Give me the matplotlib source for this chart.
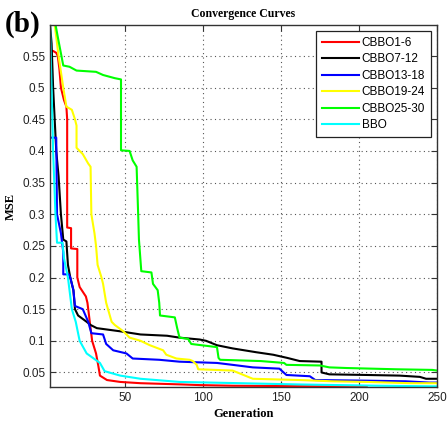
import matplotlib

matplotlib.use("Agg")
import matplotlib.pyplot as plt

# Convergence curves (generation, MSE)
labels = ["CBBO1-6", "CBBO7-12", "CBBO13-18", "CBBO19-24", "CBBO25-30", "BBO"]
colors = ["#ff0000", "#000000", "#0000ff", "#ffff00", "#00ff00", "#00ffff"]

red_gen = [2, 4, 6, 7, 8, 9, 11, 12.5, 13, 13, 15.5, 15.5, 19.5, 19.5, 21, 25, 26, 27.5, 29, 31.5, 33, 34, 38.5, 47, 60, 87, 98, 119, 183, 205]
red_mse = [0.558, 0.558, 0.555, 0.55, 0.53, 0.5, 0.48, 0.47, 0.45, 0.279, 0.278, 0.246, 0.245, 0.2, 0.185, 0.17, 0.16, 0.13, 0.1, 0.08, 0.06, 0.045, 0.038, 0.035, 0.033, 0.031, 0.030, 0.029, 0.028, 0.027]

black_gen = [2, 3, 4, 5, 6, 7.5, 9, 10.5, 12.5, 13.5, 15, 17, 18, 20, 25.5, 28, 32, 47, 60, 77, 85, 98, 102, 109, 119, 134, 145, 154, 162, 176, 176, 181, 205, 226, 239, 243, 250]
black_mse = [0.6, 0.57, 0.5, 0.45, 0.4, 0.36, 0.3, 0.26, 0.257, 0.22, 0.2, 0.18, 0.15, 0.14, 0.13, 0.125, 0.12, 0.115, 0.11, 0.108, 0.105, 0.102, 0.1, 0.093, 0.088, 0.082, 0.078, 0.073, 0.068, 0.067, 0.05, 0.047, 0.046, 0.045, 0.043, 0.04, 0.04]

blue_gen = [2, 6, 6.5, 9, 10.5, 10.5, 14, 15, 17, 18, 23, 26.5, 28.5, 36, 38, 42.5, 51, 55, 72, 85, 109, 119, 132, 149, 153.5, 168.5, 172, 205, 230, 245, 250]
blue_mse = [0.421, 0.421, 0.3, 0.27, 0.24, 0.205, 0.205, 0.2, 0.18, 0.155, 0.15, 0.13, 0.112, 0.11, 0.095, 0.085, 0.08, 0.072, 0.07, 0.067, 0.065, 0.062, 0.058, 0.056, 0.046, 0.044, 0.038, 0.037, 0.036, 0.034, 0.034]

yellow_gen = [5, 7.5, 10.5, 12.5, 16, 18, 19, 19, 23, 26.5, 28, 28.5, 30.5, 31.5, 32.5, 35, 36, 38, 41.5, 43.5, 49, 53, 60, 66, 74.5, 76.5, 83, 91.5, 93.5, 96, 97, 119, 124, 129, 132, 162, 183, 205, 233, 250]
yellow_mse = [0.6, 0.55, 0.5, 0.47, 0.465, 0.45, 0.44, 0.405, 0.395, 0.38, 0.375, 0.3, 0.27, 0.25, 0.22, 0.2, 0.19, 0.16, 0.13, 0.125, 0.115, 0.105, 0.1, 0.093, 0.085, 0.078, 0.072, 0.07, 0.068, 0.062, 0.055, 0.053, 0.048, 0.043, 0.04, 0.038, 0.036, 0.035, 0.033, 0.033]

green_gen = [5.5, 7, 10.5, 14.5, 19, 31.5, 36, 43.5, 47.5, 47.5, 53, 55, 57.5, 58.5, 59, 60.5, 67, 68, 71, 72, 72.5, 82, 83.5, 85, 90.5, 92.5, 109, 110, 111, 137, 152, 153.5, 175, 181, 192, 224, 247, 250]
green_mse = [0.6, 0.58, 0.535, 0.533, 0.527, 0.525, 0.52, 0.515, 0.513, 0.401, 0.4, 0.385, 0.375, 0.3, 0.26, 0.21, 0.208, 0.19, 0.18, 0.16, 0.14, 0.137, 0.12, 0.105, 0.103, 0.095, 0.09, 0.073, 0.07, 0.068, 0.065, 0.062, 0.061, 0.058, 0.057, 0.055, 0.054, 0.053]

cyan_gen = [2, 3, 4, 5.5, 6.5, 10, 11, 13.5, 16, 18.5, 21, 25.5, 34, 37, 47, 60, 85, 124, 162, 213, 250]
cyan_mse = [0.6, 0.5, 0.4, 0.3, 0.255, 0.255, 0.23, 0.2, 0.15, 0.13, 0.1, 0.08, 0.065, 0.052, 0.045, 0.04, 0.035, 0.033, 0.031, 0.029, 0.028]

series = [
    (red_gen, red_mse),
    (black_gen, black_mse),
    (blue_gen, blue_mse),
    (yellow_gen, yellow_mse),
    (green_gen, green_mse),
    (cyan_gen, cyan_mse),
]

x_ticks = [50, 100, 150, 200, 250]
y_ticks = [0.05, 0.1, 0.15, 0.2, 0.25, 0.3, 0.35, 0.4, 0.45, 0.5, 0.55]

SANS = ["Liberation Sans", "DejaVu Sans"]
SERIF = ["Liberation Serif", "DejaVu Serif"]

fig = plt.figure(figsize=(4.47, 4.26), dpi=100)
ax = fig.add_axes([50 / 447, 1 - 387 / 426, 387 / 447, 362 / 426])

for (gen, mse), color, label in zip(series, colors, labels):
    ax.plot(gen, mse, color=color, linewidth=1.5, label=label)

ax.set_xlim(2, 250)
ax.set_ylim(0.027, 0.599)
ax.set_xticks(x_ticks)
ax.set_yticks(y_ticks)
ax.set_yticklabels([f"{v:g}" for v in y_ticks])
ax.tick_params(direction="in", top=True, right=True, length=4, width=0.8,
               labelsize=8.5, colors="#333333", labelcolor="#222222")
for lbl in ax.get_xticklabels() + ax.get_yticklabels():
    lbl.set_family(SANS)
for side in ax.spines.values():
    side.set_color("#333333")
    side.set_linewidth(1.0)
ax.grid(True, linestyle=(0, (1, 3)), color="#555555", linewidth=0.8)

ax.set_title("Convergence Curves", family=SERIF, fontweight="bold", fontsize=8.5, pad=6)
ax.set_xlabel("Generation", family=SERIF, fontweight="bold", fontsize=9, labelpad=3)
ax.set_ylabel("MSE", family=SERIF, fontweight="bold", fontsize=9, labelpad=4)

fig.text(5 / 447, 1 - 24 / 426, "(b)", family=SERIF, fontweight="bold", fontsize=21,
         va="center", ha="left")

leg = ax.legend(loc="upper right", prop={"family": SANS, "size": 8.5}, fancybox=False,
                framealpha=1, edgecolor="#222222", borderaxespad=0.5, handlelength=3.1,
                handletextpad=0.25, labelspacing=0.38, borderpad=0.5)
leg.get_frame().set_linewidth(0.9)

fig.savefig("out.png", dpi=100)
